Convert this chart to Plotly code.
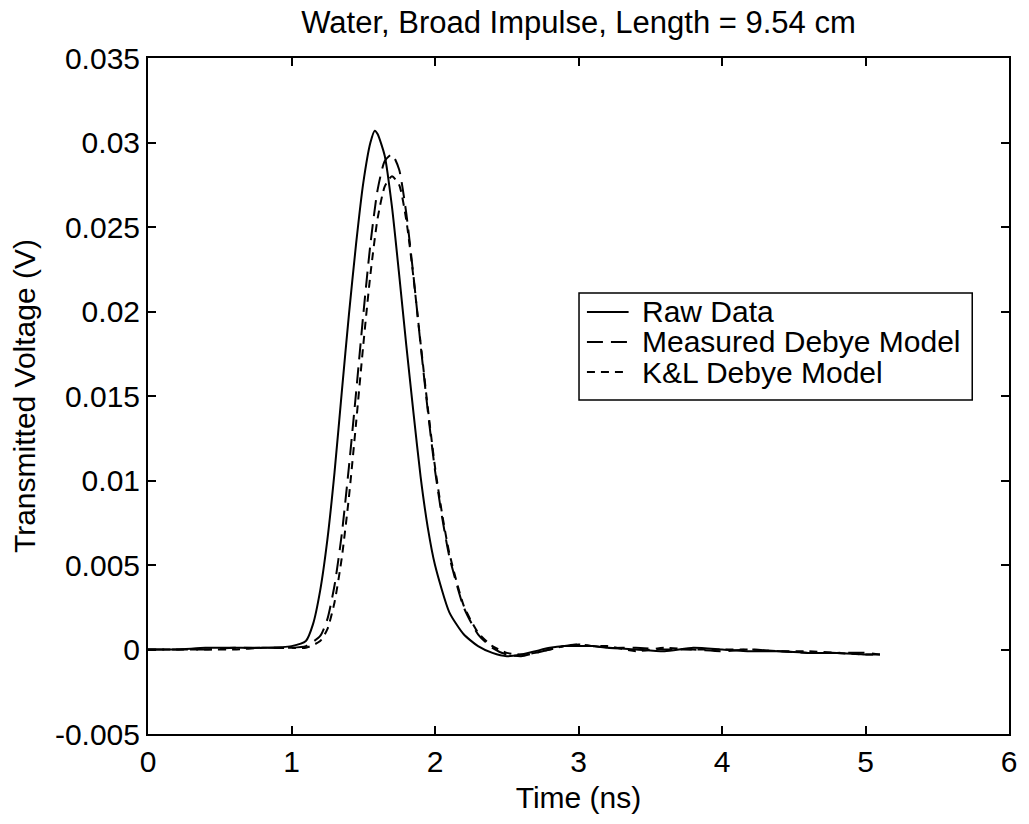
import plotly.graph_objects as go

# ---- data ----
series_names = ["Raw Data", "Measured Debye Model", "K&L Debye Model"]

time_raw = [0.0, 0.2, 0.4, 0.6, 0.8, 1.0, 1.1, 1.15, 1.2, 1.25, 1.3, 1.35, 1.4, 1.45, 1.5, 1.55, 1.58, 1.6,
            1.65, 1.7, 1.75, 1.8, 1.85, 1.9, 1.95, 2.0, 2.1, 2.2, 2.3, 2.4, 2.5, 2.6, 2.7, 2.8, 2.9, 3.0,
            3.1, 3.2, 3.4, 3.6, 3.8, 4.0, 4.2, 4.4, 4.6, 4.8, 5.0, 5.1]
raw_data = [0.0000, 0.0000, 0.0001, 0.0001, 0.0001, 0.0002, 0.0005, 0.0015, 0.0035, 0.0065, 0.0105, 0.0152,
            0.0198, 0.0240, 0.0276, 0.0300, 0.0307, 0.0305, 0.0292, 0.0262, 0.0222, 0.0180, 0.0140, 0.0102,
            0.0072, 0.0050, 0.0022, 0.0009, 0.0002, -0.0002, -0.0004, -0.0003, -0.0001, 0.0001, 0.0002,
            0.0002, 0.0002, 0.0001, 0.0000, -0.0001, 0.0001, 0.0000, -0.0001, -0.0001, -0.0002, -0.0002,
            -0.0003, -0.0003]

time_model = [0.0, 0.2, 0.4, 0.6, 0.8, 1.0, 1.1, 1.2, 1.25, 1.3, 1.35, 1.4, 1.45, 1.5, 1.55, 1.6, 1.65, 1.7,
              1.75, 1.8, 1.85, 1.9, 1.95, 2.0, 2.05, 2.1, 2.2, 2.3, 2.4, 2.5, 2.6, 2.7, 2.8, 2.9, 3.0, 3.1,
              3.2, 3.4, 3.6, 3.8, 4.0, 4.2, 4.4, 4.6, 4.8, 5.0, 5.1]
measured_debye = [0.0000, 0.0000, 0.0000, 0.0001, 0.0001, 0.0001, 0.0002, 0.0008, 0.0018, 0.0038, 0.0068,
                  0.0108, 0.0152, 0.0198, 0.0240, 0.0272, 0.0289, 0.0293, 0.0284, 0.0258, 0.0221, 0.0180,
                  0.0141, 0.0106, 0.0078, 0.0055, 0.0025, 0.0009, 0.0001, -0.0003, -0.0004, -0.0002, 0.0000,
                  0.0002, 0.0003, 0.0002, 0.0001, 0.0001, 0.0000, 0.0000, -0.0001, 0.0000, -0.0001, -0.0002,
                  -0.0002, -0.0002, -0.0003]
kl_debye = [0.0000, 0.0000, 0.0000, 0.0000, 0.0001, 0.0001, 0.0001, 0.0005, 0.0012, 0.0028, 0.0054, 0.0090,
            0.0134, 0.0180, 0.0222, 0.0255, 0.0274, 0.0280, 0.0275, 0.0254, 0.0220, 0.0181, 0.0143, 0.0108,
            0.0080, 0.0057, 0.0026, 0.0010, 0.0002, -0.0002, -0.0003, -0.0002, 0.0000, 0.0002, 0.0003,
            0.0002, 0.0002, -0.0001, 0.0001, 0.0000, 0.0000, 0.0000, -0.0001, -0.0001, -0.0002, -0.0003,
            -0.0003]

x_ticks = [0, 1, 2, 3, 4, 5, 6]
x_tick_labels = ["0", "1", "2", "3", "4", "5", "6"]
y_ticks = [-0.005, 0, 0.005, 0.01, 0.015, 0.02, 0.025, 0.03, 0.035]
y_tick_labels = ["-0.005", "0", "0.005", "0.01", "0.015", "0.02", "0.025", "0.03", "0.035"]

FONT = "Liberation Sans, Arial, sans-serif"
FS = 30
dashes = ["solid", "16px,8px", "8px,6px"]

fig = go.Figure()
for xs, ys, name, dash in zip([time_raw, time_model, time_model],
                              [raw_data, measured_debye, kl_debye], series_names, dashes):
    fig.add_trace(go.Scatter(x=xs, y=ys, mode="lines", name=name, showlegend=False,
                             line=dict(color="black", width=2, dash=dash, shape="spline", smoothing=0.6)))

axis_common = dict(showline=True, linecolor="black", linewidth=2, mirror="ticks", ticks="inside",
                   ticklen=8, tickwidth=1.5, tickcolor="black", showgrid=False, zeroline=False,
                   tickfont=dict(family=FONT, size=FS, color="black"))

fig.update_xaxes(range=[0, 6], tickvals=x_ticks, ticktext=x_tick_labels,
                 title=dict(text="Time (ns)", font=dict(family=FONT, size=FS, color="black"), standoff=10),
                 **axis_common)
fig.update_yaxes(range=[-0.005, 0.035], tickvals=y_ticks, ticktext=y_tick_labels,
                 title=dict(text="Transmitted Voltage (V)", font=dict(family=FONT, size=FS, color="black"),
                            standoff=10),
                 **axis_common)

# ---- legend box (MATLAB style, tight rows) ----
lx0, lx1, ly0, ly1 = 0.5006, 0.9573, 0.4941, 0.6524
row_y = [0.6243, 0.5799, 0.5355]
sx0, sx1, tx = 0.5098, 0.5582, 0.5709
fig.add_shape(type="rect", xref="paper", yref="paper", x0=lx0, x1=lx1, y0=ly0, y1=ly1,
              line=dict(color="black", width=1.5), fillcolor="white", layer="above")
for name, dash, yy in zip(series_names, dashes, row_y):
    fig.add_shape(type="line", xref="paper", yref="paper", x0=sx0, x1=sx1, y0=yy, y1=yy,
                  line=dict(color="black", width=2, dash=dash), layer="above")
    fig.add_annotation(x=tx, y=yy, xref="paper", yref="paper", text=name, showarrow=False,
                       xanchor="left", yanchor="middle",
                       font=dict(family=FONT, size=FS, color="black"))

fig.update_layout(
    width=1029, height=824,
    margin=dict(l=148, r=14, t=58, b=90),
    paper_bgcolor="white", plot_bgcolor="white",
    title=dict(text="Water, Broad Impulse, Length = 9.54 cm", x=0.5, xref="paper", xanchor="center",
               y=0.973, yref="container", yanchor="middle",
               font=dict(family=FONT, size=31, color="black")),
    showlegend=False,
)

fig.write_html("out.html", config={"displayModeBar": False},
               post_script="document.body.style.margin='0';document.body.style.overflow='hidden';")
